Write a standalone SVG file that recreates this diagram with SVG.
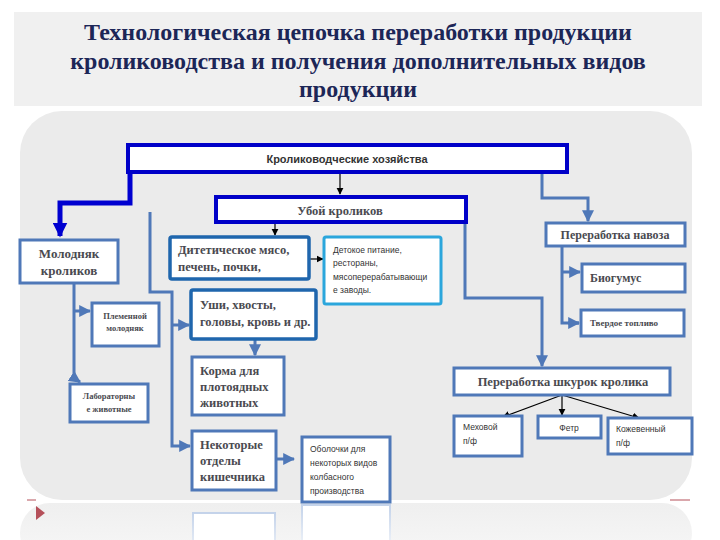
<svg xmlns="http://www.w3.org/2000/svg" width="720" height="540" viewBox="0 0 720 540">
<defs>
<style>
.title{font-family:"Liberation Serif","Times New Roman",serif;font-weight:bold;font-size:24px;fill:#1c2657;text-anchor:middle}
.box{fill:#fff;stroke:#4f78b8;stroke-width:3}
.dark{fill:#fff;stroke:#1f66ad;stroke-width:3.5}
.main{fill:#fff;stroke:#0000c8;stroke-width:4}
.lb{fill:#fff;stroke:#2ba6dc;stroke-width:3}
.st{font-family:"Liberation Serif","Times New Roman",serif;font-weight:bold;fill:#4a4a50}
.ss{font-family:"Liberation Sans",Arial,sans-serif;fill:#333}
.ln{fill:none;stroke:#4f78b8;stroke-width:3}
.bk{fill:none;stroke:#000;stroke-width:1.2}
</style>
<marker id="ab" viewBox="0 0 10 10" refX="9" refY="5" markerWidth="6" markerHeight="6" orient="auto"><path d="M0,0L10,5L0,10z" fill="#000"/></marker>
<marker id="as" viewBox="0 0 10 10" refX="9" refY="5" markerWidth="4" markerHeight="4" orient="auto"><path d="M0,0L10,5L0,10z" fill="#4f78b8"/></marker>
<marker id="am" viewBox="0 0 10 10" refX="9" refY="5" markerWidth="3" markerHeight="3" orient="auto"><path d="M0,0L10,5L0,10z" fill="#0000d0"/></marker>
<linearGradient id="rg" x1="0" y1="0" x2="0" y2="1"><stop offset="0" stop-color="#efefef"/><stop offset="1" stop-color="#f8f8f8"/></linearGradient>
<linearGradient id="rs" x1="0" y1="0" x2="0" y2="1"><stop offset="0" stop-color="#c4d3ea"/><stop offset="1" stop-color="#eef2f8"/></linearGradient>
</defs>
<rect width="720" height="540" fill="#fff"/>
<rect x="14" y="12" width="688" height="94" fill="#f0f0f0"/>
<text class="title" x="358" y="40">Технологическая цепочка переработки продукции</text>
<text class="title" x="358" y="69">кролиководства и получения дополнительных видов</text>
<text class="title" x="358" y="97">продукции</text>
<rect x="20" y="111" width="672" height="389" rx="42" fill="#ebebeb"/>
<rect x="20" y="503" width="672" height="60" rx="30" fill="url(#rg)"/>
<path d="M27,500H36M670,500H690" stroke="#b5505a" stroke-width="1"/>
<path d="M36,506L45,513L36,520z" fill="#b5505a"/>
<rect x="193" y="513" width="82" height="40" fill="#fff" stroke="url(#rs)" stroke-width="2"/>
<rect x="302" y="505" width="88" height="40" fill="#fff" stroke="url(#rs)" stroke-width="2"/>
<g id="connectors">
<path d="M130,172V203H60V236" fill="none" stroke="#0000d0" stroke-width="5" marker-end="url(#am)"/>
<path class="bk" d="M340,172V194" marker-end="url(#ab)"/>
<path class="ln" d="M542,172V198H588V221" marker-end="url(#as)"/>
<path class="bk" d="M275,222V235" marker-end="url(#ab)"/>
<path class="bk" d="M309,259H323" marker-end="url(#ab)"/>
<path class="ln" d="M465,222V298H542V366" marker-end="url(#as)"/>
<path class="ln" d="M562,246V323H579"/>
<path class="ln" d="M562,272H580" marker-end="url(#as)"/>
<path class="ln" d="M568,323H579" marker-end="url(#as)"/>
<path class="ln" d="M74,283V378L80,382" marker-end="url(#as)"/>
<path class="ln" d="M74,311H90" marker-end="url(#as)"/>
<path class="ln" d="M150,212V292H172V446H190" marker-end="url(#as)"/>
<path class="ln" d="M172,325H189" marker-end="url(#as)"/>
<path class="ln" d="M255,339V355" marker-end="url(#as)"/>
<path class="ln" d="M276,459H294" marker-end="url(#as)"/>
<path class="bk" d="M562,395L503,417" marker-end="url(#ab)"/>
<path class="bk" d="M562,395V415" marker-end="url(#ab)"/>
<path class="bk" d="M562,395L639,418" marker-end="url(#ab)"/>
</g>
<g id="farms"><rect class="main" x="128" y="145" width="439" height="27"/><text class="ss" x="347" y="163" font-size="11" font-weight="bold" text-anchor="middle">Кролиководческие хозяйства</text></g>
<g id="slaughter"><rect class="main" x="216" y="197" width="250" height="25"/><text class="st" x="340" y="215" font-size="12.5" text-anchor="middle">Убой кроликов</text></g>
<g id="young"><rect class="box" x="20" y="240" width="98" height="43"/><text class="st" x="69" y="258" font-size="13" text-anchor="middle">Молодняк</text><text class="st" x="69" y="275" font-size="13" text-anchor="middle">кроликов</text></g>
<g id="meat"><rect class="dark" x="170" y="237" width="139" height="42" rx="2"/><text class="st" x="178" y="254" font-size="12.5">Дитетическое мясо,</text><text class="st" x="178" y="271" font-size="12.5">печень, почки,</text></g>
<g id="baby"><rect class="lb" x="324" y="237" width="117" height="67" rx="2"/><g class="ss" font-size="8.5"><text x="333" y="253">Детокое питание,</text><text x="333" y="266">рестораны,</text><text x="333" y="280">мясоперерабатывающи</text><text x="333" y="293">е заводы.</text></g></g>
<g id="ears"><rect class="dark" x="191" y="290" width="125" height="49" rx="2"/><text class="st" x="200" y="309" font-size="12.5">Уши, хвосты,</text><text class="st" x="200" y="326" font-size="12.5">головы, кровь и др.</text></g>
<g id="breeding"><rect class="box" x="92" y="303" width="67" height="43"/><text class="st" x="125" y="319" font-size="8.5" text-anchor="middle">Племенной</text><text class="st" x="125" y="331" font-size="8.5" text-anchor="middle">молодняк</text></g>
<g id="lab"><rect class="box" x="70" y="384" width="78" height="38"/><text class="st" x="109" y="399" font-size="8.5" text-anchor="middle">Лабораторны</text><text class="st" x="109" y="412" font-size="8.5" text-anchor="middle">е животные</text></g>
<g id="feed"><rect class="box" x="192" y="357" width="92" height="58"/><text class="st" x="200" y="375" font-size="12.5">Корма для</text><text class="st" x="200" y="391" font-size="12.5">плотоядных</text><text class="st" x="200" y="407" font-size="12.5">животных</text></g>
<g id="gut"><rect class="box" x="192" y="431" width="84" height="59"/><text class="st" x="200" y="449" font-size="12.5">Некоторые</text><text class="st" x="200" y="465" font-size="12.5">отделы</text><text class="st" x="200" y="481" font-size="12.5">кишечника</text></g>
<g id="casing"><rect class="box" x="302" y="437" width="88" height="65"/><g class="ss" font-size="8.5"><text x="310" y="452">Оболочки для</text><text x="310" y="466">некоторых видов</text><text x="310" y="480">колбасного</text><text x="310" y="494">производства</text></g></g>
<g id="manure"><rect class="box" x="546" y="223" width="139" height="23"/><text class="st" x="615" y="239" font-size="12" text-anchor="middle">Переработка навоза</text></g>
<g id="biohumus"><rect class="box" x="582" y="264" width="103" height="28"/><text class="st" x="590" y="282" font-size="12">Биогумус</text></g>
<g id="fuel"><rect class="box" x="581" y="310" width="103" height="26"/><text class="st" x="590" y="326" font-size="9">Твердое топливо</text></g>
<g id="skins"><rect class="box" x="454" y="368" width="216" height="27"/><text class="st" x="563" y="386" font-size="12.5" text-anchor="middle">Переработка шкурок кролика</text></g>
<g id="fur"><rect class="box" x="454" y="416" width="68" height="40"/><text class="ss" x="463" y="430" font-size="8.5">Меховой</text><text class="ss" x="463" y="444" font-size="8.5">п/ф</text></g>
<g id="felt"><rect class="box" x="538" y="416" width="63" height="22"/><text class="ss" x="569" y="431" font-size="8.5" text-anchor="middle">Фетр</text></g>
<g id="leather"><rect class="box" x="608" y="418" width="84" height="36"/><text class="ss" x="616" y="432" font-size="8.5">Кожевенный</text><text class="ss" x="616" y="446" font-size="8.5">п/ф</text></g>
</svg>
